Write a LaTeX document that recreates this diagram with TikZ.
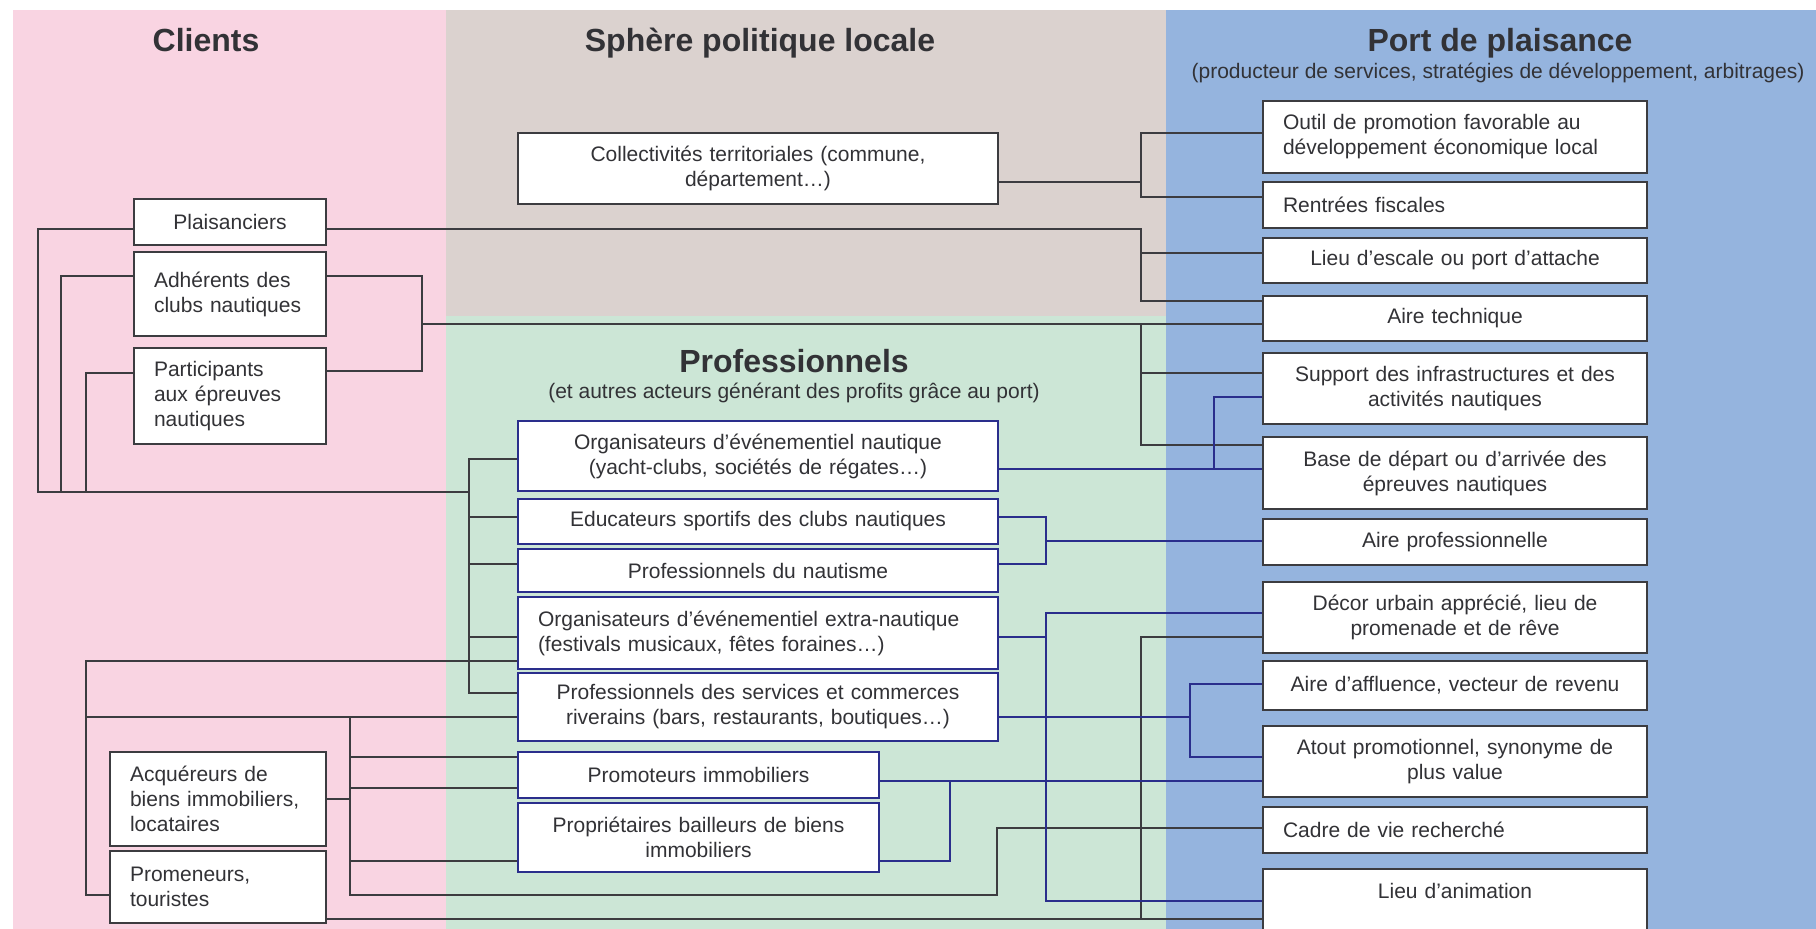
\documentclass[tikz,border=0pt]{standalone}
\usepackage{fontspec}
\setmainfont{Liberation Sans}
\definecolor{clientbg}{RGB}{249,212,226}
\definecolor{politbg}{RGB}{219,210,207}
\definecolor{probg}{RGB}{204,230,214}
\definecolor{portbg}{RGB}{149,180,222}
\definecolor{dline}{RGB}{60,60,64}
\definecolor{nline}{RGB}{42,46,140}
\definecolor{txt}{RGB}{50,50,54}

\begin{document}
\begin{tikzpicture}[x=1pt,y=-1pt,
  every node/.style={font=\fontsize{21}{25}\selectfont, text=txt},
  box/.style={draw=dline, line width=2.2pt, fill=white, inner xsep=20pt, inner ysep=3pt, align=center, text width=#1},
  probox/.style={box=#1, draw=nline},
  ttl/.style={font=\bfseries\fontsize{32}{36}\selectfont, anchor=base},
  sub/.style={anchor=base},
  blk/.style={draw=dline, line width=1.6pt},
  nav/.style={draw=nline, line width=1.6pt}]
\path[use as bounding box] (0,0) rectangle (1816,929);
\fill[white] (0,0) rectangle (1816,929);
\fill[clientbg] (13,10) rectangle (446,929);
\fill[politbg] (446,10) rectangle (1166,316);
\fill[probg] (446,316) rectangle (1166,929);
\fill[portbg] (1166,10) rectangle (1816,929);

\node[ttl] (Tcl) at (206,51) {Clients};
\node[ttl] (Tsp) at (760,51) {Sphère politique locale};
\node[ttl] (Tpo) at (1500,51) {Port de plaisance};
\node[sub] (Spo) at (1498,78) {(producteur de services, stratégies de développement, arbitrages)};
\node[ttl] (Tpr) at (794,372) {Professionnels};
\node[sub] (Spr) at (794,398) {(et autres acteurs générant des profits grâce au port)};

\node[box=152pt, minimum height=46pt] (C1) at (230,222) {Plaisanciers};
\node[box=152pt, minimum height=84pt, align=left] (C2) at (230,294) {Adhérents des\\clubs nautiques};
\node[box=152pt, minimum height=96pt, align=left] (C3) at (230,396) {Participants\\aux épreuves\\nautiques};
\node[box=176pt, minimum height=94pt, align=left] (C4) at (218,799) {Acquéreurs de\\biens immobiliers,\\locataires};
\node[box=176pt, minimum height=72pt, align=left] (C5) at (218,887) {Promeneurs,\\touristes};

\node[box=440pt, minimum height=71pt] (S1) at (758,168.5) {Collectivités territoriales (commune,\\département…)};

\node[probox=440pt, minimum height=70pt] (P1) at (758,456) {Organisateurs d’événementiel nautique\\(yacht-clubs, sociétés de régates…)};
\node[probox=440pt, minimum height=45pt] (P2) at (758,521.5) {Educateurs sportifs des clubs nautiques};
\node[probox=440pt, minimum height=43pt] (P3) at (758,570.5) {Professionnels du nautisme};
\node[probox=440pt, minimum height=72pt, align=left] (P4) at (758,633) {Organisateurs d’événementiel extra-nautique\\(festivals musicaux, fêtes foraines…)};
\node[probox=440pt, minimum height=68pt] (P5) at (758,707) {Professionnels des services et commerces\\riverains (bars, restaurants, boutiques…)};
\node[probox=321pt, minimum height=46pt] (P6) at (698.5,775) {Promoteurs immobiliers};
\node[probox=321pt, minimum height=69pt] (P7) at (698.5,837.5) {Propriétaires bailleurs de biens\\immobiliers};

\node[box=344pt, minimum height=72pt, align=left] (R1) at (1455,137) {Outil de promotion favorable au\\développement économique local};
\node[box=344pt, minimum height=46pt, align=left] (R2) at (1455,205) {Rentrées fiscales};
\node[box=344pt, minimum height=45pt] (R3) at (1455,260.5) {Lieu d’escale ou port d’attache};
\node[box=344pt, minimum height=45pt] (R4) at (1455,318.5) {Aire technique};
\node[box=344pt, minimum height=71pt] (R5) at (1455,388.5) {Support des infrastructures et des\\activités nautiques};
\node[box=344pt, minimum height=72pt] (R6) at (1455,473) {Base de départ ou d’arrivée des\\épreuves nautiques};
\node[box=344pt, minimum height=46pt] (R7) at (1455,542) {Aire professionnelle};
\node[box=344pt, minimum height=71pt] (R8) at (1455,617.5) {Décor urbain apprécié, lieu de\\promenade et de rêve};
\node[box=344pt, minimum height=49pt] (R9) at (1455,685.5) {Aire d’affluence, vecteur de revenu};
\node[box=344pt, minimum height=71pt] (R10) at (1455,761.5) {Atout promotionnel, synonyme de\\plus value};
\node[box=344pt, minimum height=46pt, align=left] (R11) at (1455,830) {Cadre de vie recherché};
\node[box=344pt, anchor=north, text height=26pt, text depth=60pt] (R12) at (1455,868) {Lieu d’animation};

\draw[blk] (S1.east |- 0,182) -- (1141,182);
\draw[blk] (R1.west |- 0,133) -| (1141,197) -- (R2.west |- 0,197);
\draw[blk] (C1.east |- 0,229) -| (1141,301) -- (R4.west |- 0,301);
\draw[blk] (1141,253) -- (R3.west |- 0,253);
\draw[blk] (C1.west |- 0,229) -| (38,492) -- (469,492);
\draw[blk] (C2.west |- 0,276) -| (61,492);
\draw[blk] (C3.west |- 0,373) -| (86,492);
\draw[blk] (P1.west |- 0,459) -| (469,693) -- (P5.west |- 0,693);
\draw[blk] (469,517) -- (P2.west |- 0,517);
\draw[blk] (469,564) -- (P3.west |- 0,564);
\draw[blk] (469,637) -- (P4.west |- 0,637);
\draw[blk] (C2.east |- 0,276) -| (422,371) -- (C3.east |- 0,371);
\draw[blk] (422,324) -- (R4.west |- 0,324);
\draw[blk] (1141,324) |- (R6.west |- 0,445);
\draw[blk] (1141,373) -- (R5.west |- 0,373);
\draw[blk] (C5.west |- 0,895) -| (86,661) -- (P4.west |- 0,661);
\draw[blk] (86,717) -- (P5.west |- 0,717);
\draw[blk] (C4.east |- 0,799) -- (350,799);
\draw[blk] (350,717) -- (350,895) -| (997,828) -- (R11.west |- 0,828);
\draw[blk] (350,757) -- (P6.west |- 0,757);
\draw[blk] (350,788) -- (P6.west |- 0,788);
\draw[blk] (350,861) -- (P7.west |- 0,861);
\draw[blk] (C5.east |- 0,919) -- (R12.west |- 0,919);
\draw[blk] (1141,919) |- (R8.west |- 0,637);

\draw[nav] (P1.east |- 0,469) -- (R6.west |- 0,469);
\draw[nav] (1214,469) |- (R5.west |- 0,397);
\draw[nav] (P2.east |- 0,517) -| (1046,564) -- (P3.east |- 0,564);
\draw[nav] (1046,541) -- (R7.west |- 0,541);
\draw[nav] (P4.east |- 0,637) -- (1046,637);
\draw[nav] (R8.west |- 0,613) -| (1046,901) -- (R12.west |- 0,901);
\draw[nav] (P5.east |- 0,717) -- (1190,717);
\draw[nav] (R9.west |- 0,684) -| (1190,757) -- (R10.west |- 0,757);
\draw[nav] (P6.east |- 0,781) -- (R10.west |- 0,781);
\draw[nav] (950,781) |- (P7.east |- 0,861);
\end{tikzpicture}
\end{document}
